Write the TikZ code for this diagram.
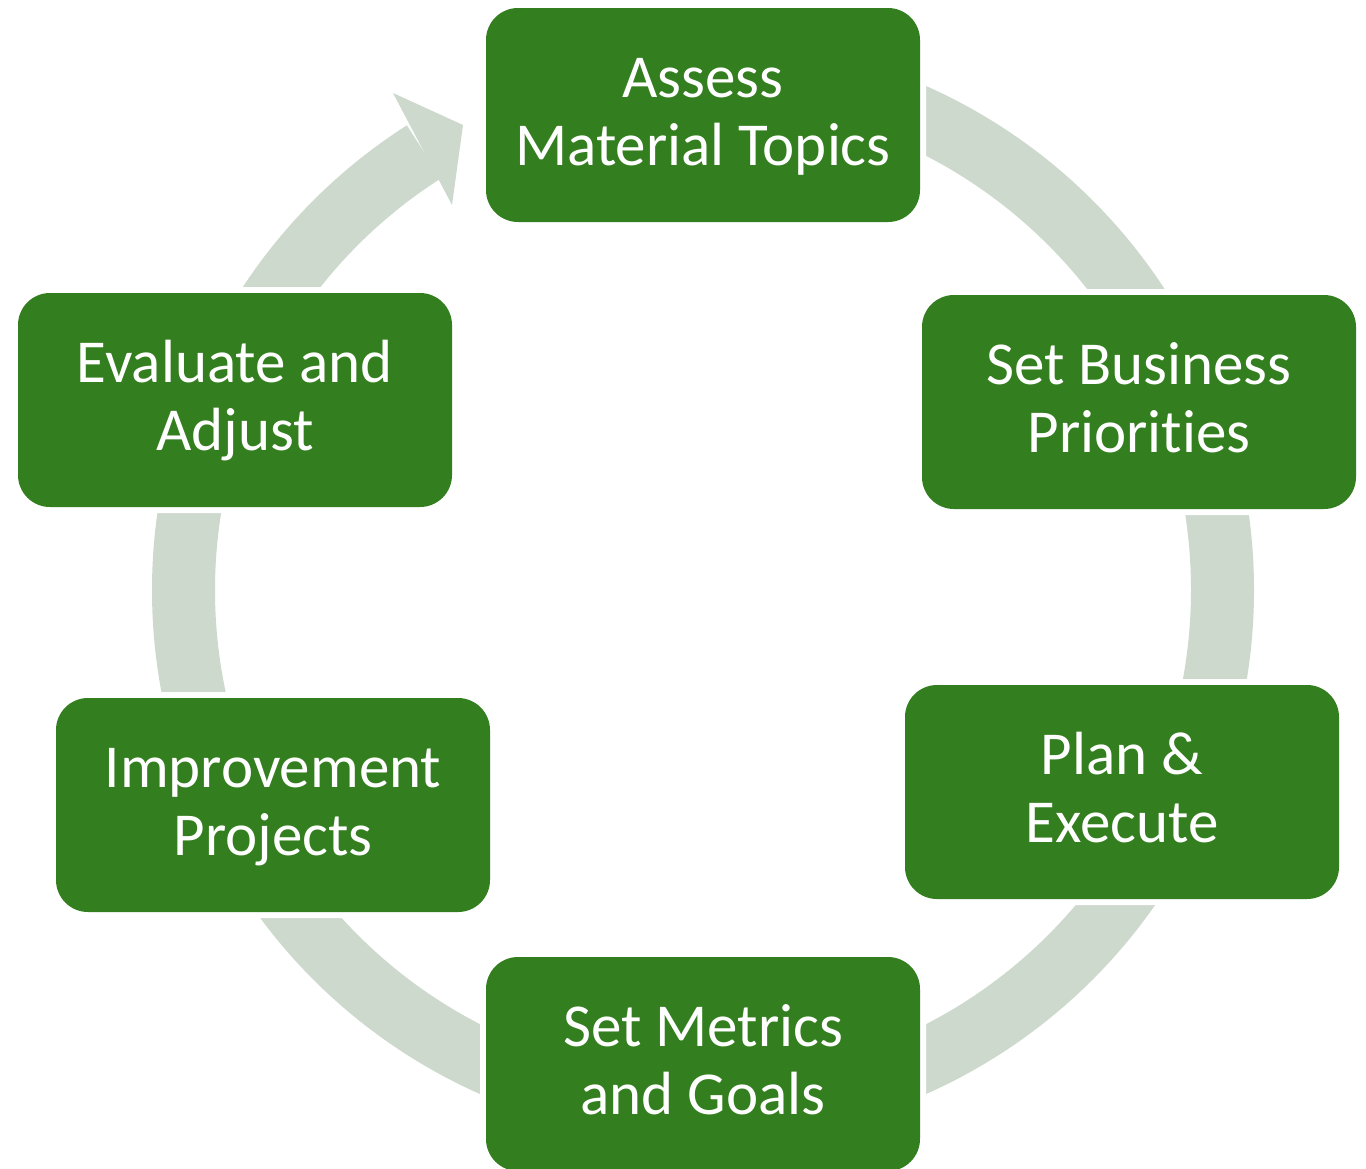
\documentclass[tikz,border=0pt]{standalone}
\usepackage{fontspec}
\setmainfont[Ligatures=NoCommon]{Carlito}
\definecolor{boxgreen}{RGB}{51,126,30}
\definecolor{ringgray}{RGB}{205,217,205}
\newcommand\mystrut{\rule[-15pt]{0pt}{62pt}}
\tikzset{
  stepbox/.style={rectangle, rounded corners=32pt, fill=boxgreen,
    preaction={draw=white, line width=12pt},
    minimum width=434pt, minimum height=214pt, inner sep=0pt,
    align=center, text=white, font=\fontsize{61}{68}\selectfont},
  ringband/.style={draw=ringgray, line width=63pt, line cap=butt},
}
\begin{document}
\begin{tikzpicture}[x=1pt,y=-1pt]
\useasboundingbox[fill=white] (0,0) rectangle (1366,1168);
\coordinate (c) at (703,590);
% ring band
\draw[ringband] (c) ++(-90:519.5) arc[start angle=-90, end angle=237.5, radius=519.5];
% arrowhead
\fill[ringgray] (393,93) -- (463,125) -- (452,205) -- cycle;
% boxes
\node[stepbox] (assess)  at (703,115)   {\mystrut Assess\\\mystrut Material Topics};
\node[stepbox] (biz)     at (1139,402)  {\mystrut Set Business\\\mystrut Priorities};
\node[stepbox] (plan)    at (1122,792)  {\mystrut Plan \&\\\mystrut Execute};
\node[stepbox] (metrics) at (703,1064)  {\mystrut Set Metrics\\\mystrut and Goals};
\node[stepbox] (improve) at (273,805)   {\mystrut Improvement\\\mystrut Projects};
\node[stepbox] (eval)    at (235,400)   {\mystrut Evaluate and\\\mystrut Adjust};
\end{tikzpicture}
\end{document}
